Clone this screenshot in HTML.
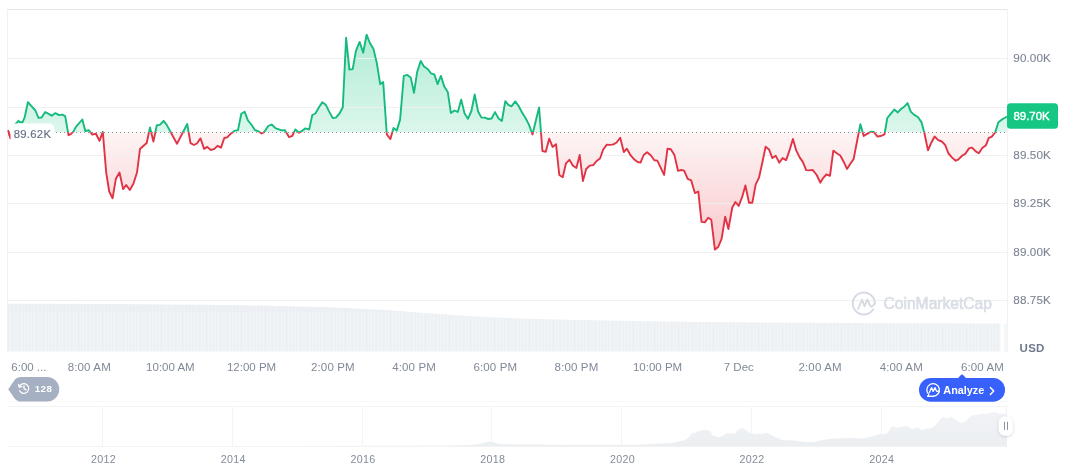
<!DOCTYPE html>
<html lang="en">
<head>
<meta charset="utf-8">
<title>Bitcoin price chart</title>
<style>
html,body{margin:0;padding:0;background:#fff;}
body{width:1072px;height:470px;overflow:hidden;position:relative;font-family:"Liberation Sans",sans-serif;}
svg{position:absolute;left:0;top:0;display:block;}
text{font-family:"Liberation Sans",sans-serif;}
.ax{font-size:11.5px;fill:#818998;}
.ay{font-size:11.7px;fill:#7b8494;stroke:#7b8494;stroke-width:0.1px;letter-spacing:0.1px;}
.yr{font-size:10.7px;fill:#838b99;letter-spacing:0.3px;}
</style>
</head>
<body>
<svg width="1072" height="470" viewBox="0 0 1072 470">
<defs>
<linearGradient id="gG" gradientUnits="userSpaceOnUse" x1="0" y1="30" x2="0" y2="132.3">
<stop offset="0" stop-color="#16c784" stop-opacity="0.35"/>
<stop offset="1" stop-color="#16c784" stop-opacity="0.15"/>
</linearGradient>
<linearGradient id="gR" gradientUnits="userSpaceOnUse" x1="0" y1="132.3" x2="0" y2="252">
<stop offset="0" stop-color="#ea3943" stop-opacity="0.055"/>
<stop offset="1" stop-color="#ea3943" stop-opacity="0.28"/>
</linearGradient>
<linearGradient id="gN" gradientUnits="userSpaceOnUse" x1="0" y1="410" x2="0" y2="446">
<stop offset="0" stop-color="#f1f3f6"/>
<stop offset="1" stop-color="#eceff2"/>
</linearGradient>
<clipPath id="cTop"><rect x="8" y="0" width="999" height="132.3"/></clipPath>
<clipPath id="cBot"><rect x="8" y="132.3" width="999" height="230"/></clipPath>
<filter id="sh" x="-60%" y="-40%" width="220%" height="200%">
<feDropShadow dx="0" dy="1" stdDeviation="1.6" flood-color="#58667e" flood-opacity="0.28"/>
</filter>
</defs>

<g shape-rendering="crispEdges">
<rect x="8" y="9" width="999" height="1" fill="#e6e6e6"/>
<rect x="7" y="9" width="1" height="343" fill="#f1f1f1"/>
<rect x="1007" y="9" width="1" height="343" fill="#f1f1f1"/>
</g>
<path d="M8.0,303.8 L100.0,304.0 L200.0,304.8 L260.0,305.5 L335.0,307.5 L385.0,310.0 L435.0,313.7 L485.0,317.0 L528.0,318.8 L578.0,320.0 L650.0,321.3 L700.0,322.0 L800.0,322.8 L900.0,323.3 L1000.5,323.5 L1000.5,351.6 L8.0,351.6 Z" fill="#edf1f4"/>
<clipPath id="cVol"><path d="M8.0,303.8 L100.0,304.0 L200.0,304.8 L260.0,305.5 L335.0,307.5 L385.0,310.0 L435.0,313.7 L485.0,317.0 L528.0,318.8 L578.0,320.0 L650.0,321.3 L700.0,322.0 L800.0,322.8 L900.0,323.3 L1000.5,323.5 L1000.5,351.6 L8.0,351.6 Z"/></clipPath>
<path d="M10,303h1v49h-1zM14,303h1v49h-1zM17,303h1v49h-1zM21,303h1v49h-1zM24,303h1v49h-1zM27,303h1v49h-1zM31,303h1v49h-1zM34,303h1v49h-1zM38,303h1v49h-1zM41,303h1v49h-1zM45,303h1v49h-1zM48,303h1v49h-1zM52,303h1v49h-1zM55,303h1v49h-1zM59,303h1v49h-1zM62,303h1v49h-1zM66,303h1v49h-1zM69,303h1v49h-1zM73,303h1v49h-1zM76,303h1v49h-1zM80,303h1v49h-1zM83,303h1v49h-1zM86,303h1v49h-1zM90,303h1v49h-1zM93,303h1v49h-1zM97,303h1v49h-1zM100,303h1v49h-1zM104,303h1v49h-1zM107,303h1v49h-1zM111,303h1v49h-1zM114,303h1v49h-1zM118,303h1v49h-1zM121,303h1v49h-1zM125,303h1v49h-1zM128,303h1v49h-1zM132,303h1v49h-1zM135,303h1v49h-1zM138,303h1v49h-1zM142,303h1v49h-1zM145,303h1v49h-1zM149,303h1v49h-1zM152,303h1v49h-1zM156,303h1v49h-1zM159,303h1v49h-1zM163,303h1v49h-1zM166,303h1v49h-1zM170,303h1v49h-1zM173,303h1v49h-1zM177,303h1v49h-1zM180,303h1v49h-1zM184,303h1v49h-1zM187,303h1v49h-1zM191,303h1v49h-1zM194,303h1v49h-1zM197,303h1v49h-1zM201,303h1v49h-1zM204,303h1v49h-1zM208,303h1v49h-1zM211,303h1v49h-1zM215,303h1v49h-1zM218,303h1v49h-1zM222,303h1v49h-1zM225,303h1v49h-1zM229,303h1v49h-1zM232,303h1v49h-1zM236,303h1v49h-1zM239,303h1v49h-1zM243,303h1v49h-1zM246,303h1v49h-1zM250,303h1v49h-1zM253,303h1v49h-1zM256,303h1v49h-1zM260,303h1v49h-1zM263,303h1v49h-1zM267,303h1v49h-1zM270,303h1v49h-1zM274,303h1v49h-1zM277,303h1v49h-1zM281,303h1v49h-1zM284,303h1v49h-1zM288,303h1v49h-1zM291,303h1v49h-1zM295,303h1v49h-1zM298,303h1v49h-1zM302,303h1v49h-1zM305,303h1v49h-1zM309,303h1v49h-1zM312,303h1v49h-1zM315,303h1v49h-1zM319,303h1v49h-1zM322,303h1v49h-1zM326,303h1v49h-1zM329,303h1v49h-1zM333,303h1v49h-1zM336,303h1v49h-1zM340,303h1v49h-1zM343,303h1v49h-1zM347,303h1v49h-1zM350,303h1v49h-1zM354,303h1v49h-1zM357,303h1v49h-1zM361,303h1v49h-1zM364,303h1v49h-1zM368,303h1v49h-1zM371,303h1v49h-1zM374,303h1v49h-1zM378,303h1v49h-1zM381,303h1v49h-1zM385,303h1v49h-1zM388,303h1v49h-1zM392,303h1v49h-1zM395,303h1v49h-1zM399,303h1v49h-1zM402,303h1v49h-1zM406,303h1v49h-1zM409,303h1v49h-1zM413,303h1v49h-1zM416,303h1v49h-1zM420,303h1v49h-1zM423,303h1v49h-1zM427,303h1v49h-1zM430,303h1v49h-1zM433,303h1v49h-1zM437,303h1v49h-1zM440,303h1v49h-1zM444,303h1v49h-1zM447,303h1v49h-1zM451,303h1v49h-1zM454,303h1v49h-1zM458,303h1v49h-1zM461,303h1v49h-1zM465,303h1v49h-1zM468,303h1v49h-1zM472,303h1v49h-1zM475,303h1v49h-1zM479,303h1v49h-1zM482,303h1v49h-1zM485,303h1v49h-1zM489,303h1v49h-1zM492,303h1v49h-1zM496,303h1v49h-1zM499,303h1v49h-1zM503,303h1v49h-1zM506,303h1v49h-1zM510,303h1v49h-1zM513,303h1v49h-1zM517,303h1v49h-1zM520,303h1v49h-1zM524,303h1v49h-1zM527,303h1v49h-1zM531,303h1v49h-1zM534,303h1v49h-1zM538,303h1v49h-1zM541,303h1v49h-1zM544,303h1v49h-1zM548,303h1v49h-1zM551,303h1v49h-1zM555,303h1v49h-1zM558,303h1v49h-1zM562,303h1v49h-1zM565,303h1v49h-1zM569,303h1v49h-1zM572,303h1v49h-1zM576,303h1v49h-1zM579,303h1v49h-1zM583,303h1v49h-1zM586,303h1v49h-1zM590,303h1v49h-1zM593,303h1v49h-1zM597,303h1v49h-1zM600,303h1v49h-1zM603,303h1v49h-1zM607,303h1v49h-1zM610,303h1v49h-1zM614,303h1v49h-1zM617,303h1v49h-1zM621,303h1v49h-1zM624,303h1v49h-1zM628,303h1v49h-1zM631,303h1v49h-1zM635,303h1v49h-1zM638,303h1v49h-1zM642,303h1v49h-1zM645,303h1v49h-1zM649,303h1v49h-1zM652,303h1v49h-1zM656,303h1v49h-1zM659,303h1v49h-1zM662,303h1v49h-1zM666,303h1v49h-1zM669,303h1v49h-1zM673,303h1v49h-1zM676,303h1v49h-1zM680,303h1v49h-1zM683,303h1v49h-1zM687,303h1v49h-1zM690,303h1v49h-1zM694,303h1v49h-1zM697,303h1v49h-1zM701,303h1v49h-1zM704,303h1v49h-1zM708,303h1v49h-1zM711,303h1v49h-1zM715,303h1v49h-1zM718,303h1v49h-1zM721,303h1v49h-1zM725,303h1v49h-1zM728,303h1v49h-1zM732,303h1v49h-1zM735,303h1v49h-1zM739,303h1v49h-1zM742,303h1v49h-1zM746,303h1v49h-1zM749,303h1v49h-1zM753,303h1v49h-1zM756,303h1v49h-1zM760,303h1v49h-1zM763,303h1v49h-1zM767,303h1v49h-1zM770,303h1v49h-1zM774,303h1v49h-1zM777,303h1v49h-1zM780,303h1v49h-1zM784,303h1v49h-1zM787,303h1v49h-1zM791,303h1v49h-1zM794,303h1v49h-1zM798,303h1v49h-1zM801,303h1v49h-1zM805,303h1v49h-1zM808,303h1v49h-1zM812,303h1v49h-1zM815,303h1v49h-1zM819,303h1v49h-1zM822,303h1v49h-1zM826,303h1v49h-1zM829,303h1v49h-1zM832,303h1v49h-1zM836,303h1v49h-1zM839,303h1v49h-1zM843,303h1v49h-1zM846,303h1v49h-1zM850,303h1v49h-1zM853,303h1v49h-1zM857,303h1v49h-1zM860,303h1v49h-1zM864,303h1v49h-1zM867,303h1v49h-1zM871,303h1v49h-1zM874,303h1v49h-1zM878,303h1v49h-1zM881,303h1v49h-1zM885,303h1v49h-1zM888,303h1v49h-1zM891,303h1v49h-1zM895,303h1v49h-1zM898,303h1v49h-1zM902,303h1v49h-1zM905,303h1v49h-1zM909,303h1v49h-1zM912,303h1v49h-1zM916,303h1v49h-1zM919,303h1v49h-1zM923,303h1v49h-1zM926,303h1v49h-1zM930,303h1v49h-1zM933,303h1v49h-1zM937,303h1v49h-1zM940,303h1v49h-1zM944,303h1v49h-1zM947,303h1v49h-1zM950,303h1v49h-1zM954,303h1v49h-1zM957,303h1v49h-1zM961,303h1v49h-1zM964,303h1v49h-1zM968,303h1v49h-1zM971,303h1v49h-1zM975,303h1v49h-1zM978,303h1v49h-1zM982,303h1v49h-1zM985,303h1v49h-1zM989,303h1v49h-1zM992,303h1v49h-1zM996,303h1v49h-1zM999,303h1v49h-1zM1003,303h1v49h-1z" fill="#ffffff" fill-opacity="0.3" shape-rendering="crispEdges" clip-path="url(#cVol)"/>
<rect x="8" y="303" width="993" height="9" fill="#c9d2dc" fill-opacity="0.06" clip-path="url(#cVol)"/>
<rect x="1000.6" y="300" width="3.4" height="52" fill="#fff"/>
<rect x="1004" y="323.8" width="3.5" height="27.8" fill="#f4f6f8"/>
<g clip-path="url(#cTop)"><path d="M8.0,130.8 L10.6,138.4 L15.2,124.3 L18.5,120.8 L20.0,122.3 L22.4,122.3 L24.6,117.7 L27.9,102.1 L30.8,105.4 L35.4,110.5 L38.5,117.9 L41.6,117.5 L45.2,112.1 L48.2,113.6 L51.8,115.7 L55.4,113.1 L59.0,115.1 L62.1,114.6 L65.2,116.2 L68.5,135.2 L70.8,134.1 L73.4,131.6 L75.9,126.9 L82.3,119.5 L85.3,131.0 L89.0,130.3 L92.3,134.6 L95.9,133.8 L99.5,140.8 L102.8,131.8 L106.2,172.5 L109.2,191.5 L112.6,198.2 L115.9,178.7 L119.5,172.5 L123.1,189.1 L126.2,185.0 L129.8,190.0 L133.4,183.8 L137.0,172.5 L140.0,149.0 L143.3,146.0 L146.7,143.0 L150.0,127.4 L153.4,141.6 L156.8,125.2 L159.8,124.9 L163.6,120.8 L166.7,124.9 L177.0,143.7 L187.2,124.0 L190.5,143.2 L193.9,145.0 L196.9,143.5 L200.5,138.4 L204.1,148.9 L207.2,146.9 L210.8,150.0 L214.4,148.9 L217.5,145.8 L221.0,147.6 L224.3,138.0 L227.2,137.3 L230.8,133.7 L234.4,130.9 L238.0,130.1 L241.3,113.7 L244.6,111.7 L247.9,120.4 L251.3,124.5 L254.9,130.1 L258.2,131.2 L261.6,133.5 L264.1,132.2 L268.2,126.0 L271.6,124.5 L275.4,128.1 L281.6,130.4 L285.0,130.1 L289.0,137.1 L292.3,135.8 L295.4,129.4 L299.0,132.8 L302.0,130.9 L305.1,128.4 L309.2,129.4 L312.3,115.0 L315.4,113.5 L319.0,107.3 L322.3,102.2 L325.7,104.7 L329.3,111.9 L332.8,118.1 L335.9,117.6 L339.5,113.5 L342.8,107.3 L346.1,37.8 L349.4,69.6 L352.7,69.1 L356.0,50.7 L359.6,41.9 L363.2,52.7 L366.6,34.7 L369.9,43.0 L373.5,49.1 L376.8,63.0 L380.2,84.1 L383.2,82.1 L386.8,134.5 L390.4,139.1 L393.5,128.0 L396.8,130.4 L400.1,119.6 L403.8,75.9 L407.3,74.9 L410.7,77.4 L414.0,92.8 L417.1,72.3 L420.7,61.0 L423.8,66.2 L427.9,69.2 L430.9,73.3 L434.3,74.4 L437.6,84.1 L440.9,75.9 L444.2,86.4 L447.8,92.1 L450.9,113.1 L454.5,110.5 L457.8,111.9 L461.2,99.6 L464.6,113.6 L467.9,118.8 L471.4,111.0 L474.7,94.5 L478.1,111.5 L481.4,117.6 L484.7,117.6 L488.3,119.0 L491.6,118.5 L495.0,112.1 L498.6,118.5 L501.9,121.0 L505.3,101.2 L508.4,104.9 L511.4,106.3 L515.3,101.4 L518.6,106.0 L522.2,112.7 L525.8,118.5 L528.9,124.6 L532.5,134.4 L535.5,122.1 L539.1,107.4 L542.4,151.0 L545.8,151.8 L549.2,138.7 L552.6,146.9 L556.0,144.2 L559.3,175.0 L562.7,177.2 L566.0,163.3 L569.4,159.8 L572.8,165.4 L576.4,168.0 L579.7,155.0 L582.9,181.0 L586.2,169.0 L589.7,165.6 L593.2,165.1 L596.6,161.0 L600.0,158.5 L603.2,149.5 L606.8,144.6 L610.4,144.9 L613.5,144.4 L616.6,142.5 L620.2,137.7 L623.8,152.1 L626.8,148.7 L630.9,155.7 L634.0,159.2 L637.6,162.0 L640.5,162.6 L643.7,155.0 L647.1,152.3 L650.7,155.2 L654.3,160.2 L657.3,160.6 L664.1,174.9 L667.5,148.7 L670.8,149.2 L674.4,154.9 L678.0,170.8 L681.0,170.0 L684.1,170.6 L687.7,178.8 L691.2,180.4 L694.9,193.1 L698.3,191.5 L701.5,221.9 L704.8,222.4 L708.2,217.7 L711.3,219.8 L714.9,249.6 L718.2,247.0 L721.6,238.8 L725.2,216.7 L728.4,229.0 L732.3,207.5 L735.4,202.0 L738.7,205.9 L742.1,197.2 L745.4,185.5 L749.0,202.8 L752.3,202.8 L755.7,184.4 L759.0,177.7 L762.3,162.7 L765.6,146.8 L769.0,149.4 L772.4,158.1 L775.7,155.7 L779.2,162.7 L782.6,158.1 L786.1,160.1 L789.5,150.4 L792.9,138.9 L796.2,150.4 L799.8,157.6 L802.8,161.9 L806.2,170.1 L809.5,170.4 L812.6,169.9 L816.7,175.0 L820.3,182.7 L823.1,178.1 L826.4,174.5 L830.0,175.8 L833.3,150.6 L836.7,153.3 L840.3,155.5 L843.6,161.7 L847.0,168.9 L850.0,164.2 L853.6,159.1 L857.0,141.5 L860.4,124.2 L863.7,136.0 L867.1,133.9 L870.7,131.7 L873.7,131.9 L877.3,136.5 L880.9,136.0 L884.5,134.4 L887.3,118.0 L890.7,113.9 L894.3,109.5 L897.8,112.4 L900.9,109.1 L904.5,106.4 L907.6,103.1 L910.9,111.9 L914.3,114.9 L917.9,117.0 L921.4,122.1 L924.4,133.0 L928.0,150.4 L931.3,142.7 L934.6,136.5 L938.2,140.1 L941.8,141.5 L945.1,144.8 L948.5,153.5 L952.1,157.6 L955.7,160.7 L958.2,159.6 L962.3,155.5 L965.4,153.8 L969.0,148.4 L972.1,147.6 L975.7,151.4 L978.8,153.2 L982.3,148.0 L985.9,145.3 L988.8,137.8 L991.6,136.8 L995.2,132.4 L998.4,122.2 L1001.4,119.9 L1003.6,118.5 L1007.0,116.8 L1007.0,132.3 L8.0,132.3 Z" fill="url(#gG)"/></g>
<g clip-path="url(#cBot)"><path d="M8.0,130.8 L10.6,138.4 L15.2,124.3 L18.5,120.8 L20.0,122.3 L22.4,122.3 L24.6,117.7 L27.9,102.1 L30.8,105.4 L35.4,110.5 L38.5,117.9 L41.6,117.5 L45.2,112.1 L48.2,113.6 L51.8,115.7 L55.4,113.1 L59.0,115.1 L62.1,114.6 L65.2,116.2 L68.5,135.2 L70.8,134.1 L73.4,131.6 L75.9,126.9 L82.3,119.5 L85.3,131.0 L89.0,130.3 L92.3,134.6 L95.9,133.8 L99.5,140.8 L102.8,131.8 L106.2,172.5 L109.2,191.5 L112.6,198.2 L115.9,178.7 L119.5,172.5 L123.1,189.1 L126.2,185.0 L129.8,190.0 L133.4,183.8 L137.0,172.5 L140.0,149.0 L143.3,146.0 L146.7,143.0 L150.0,127.4 L153.4,141.6 L156.8,125.2 L159.8,124.9 L163.6,120.8 L166.7,124.9 L177.0,143.7 L187.2,124.0 L190.5,143.2 L193.9,145.0 L196.9,143.5 L200.5,138.4 L204.1,148.9 L207.2,146.9 L210.8,150.0 L214.4,148.9 L217.5,145.8 L221.0,147.6 L224.3,138.0 L227.2,137.3 L230.8,133.7 L234.4,130.9 L238.0,130.1 L241.3,113.7 L244.6,111.7 L247.9,120.4 L251.3,124.5 L254.9,130.1 L258.2,131.2 L261.6,133.5 L264.1,132.2 L268.2,126.0 L271.6,124.5 L275.4,128.1 L281.6,130.4 L285.0,130.1 L289.0,137.1 L292.3,135.8 L295.4,129.4 L299.0,132.8 L302.0,130.9 L305.1,128.4 L309.2,129.4 L312.3,115.0 L315.4,113.5 L319.0,107.3 L322.3,102.2 L325.7,104.7 L329.3,111.9 L332.8,118.1 L335.9,117.6 L339.5,113.5 L342.8,107.3 L346.1,37.8 L349.4,69.6 L352.7,69.1 L356.0,50.7 L359.6,41.9 L363.2,52.7 L366.6,34.7 L369.9,43.0 L373.5,49.1 L376.8,63.0 L380.2,84.1 L383.2,82.1 L386.8,134.5 L390.4,139.1 L393.5,128.0 L396.8,130.4 L400.1,119.6 L403.8,75.9 L407.3,74.9 L410.7,77.4 L414.0,92.8 L417.1,72.3 L420.7,61.0 L423.8,66.2 L427.9,69.2 L430.9,73.3 L434.3,74.4 L437.6,84.1 L440.9,75.9 L444.2,86.4 L447.8,92.1 L450.9,113.1 L454.5,110.5 L457.8,111.9 L461.2,99.6 L464.6,113.6 L467.9,118.8 L471.4,111.0 L474.7,94.5 L478.1,111.5 L481.4,117.6 L484.7,117.6 L488.3,119.0 L491.6,118.5 L495.0,112.1 L498.6,118.5 L501.9,121.0 L505.3,101.2 L508.4,104.9 L511.4,106.3 L515.3,101.4 L518.6,106.0 L522.2,112.7 L525.8,118.5 L528.9,124.6 L532.5,134.4 L535.5,122.1 L539.1,107.4 L542.4,151.0 L545.8,151.8 L549.2,138.7 L552.6,146.9 L556.0,144.2 L559.3,175.0 L562.7,177.2 L566.0,163.3 L569.4,159.8 L572.8,165.4 L576.4,168.0 L579.7,155.0 L582.9,181.0 L586.2,169.0 L589.7,165.6 L593.2,165.1 L596.6,161.0 L600.0,158.5 L603.2,149.5 L606.8,144.6 L610.4,144.9 L613.5,144.4 L616.6,142.5 L620.2,137.7 L623.8,152.1 L626.8,148.7 L630.9,155.7 L634.0,159.2 L637.6,162.0 L640.5,162.6 L643.7,155.0 L647.1,152.3 L650.7,155.2 L654.3,160.2 L657.3,160.6 L664.1,174.9 L667.5,148.7 L670.8,149.2 L674.4,154.9 L678.0,170.8 L681.0,170.0 L684.1,170.6 L687.7,178.8 L691.2,180.4 L694.9,193.1 L698.3,191.5 L701.5,221.9 L704.8,222.4 L708.2,217.7 L711.3,219.8 L714.9,249.6 L718.2,247.0 L721.6,238.8 L725.2,216.7 L728.4,229.0 L732.3,207.5 L735.4,202.0 L738.7,205.9 L742.1,197.2 L745.4,185.5 L749.0,202.8 L752.3,202.8 L755.7,184.4 L759.0,177.7 L762.3,162.7 L765.6,146.8 L769.0,149.4 L772.4,158.1 L775.7,155.7 L779.2,162.7 L782.6,158.1 L786.1,160.1 L789.5,150.4 L792.9,138.9 L796.2,150.4 L799.8,157.6 L802.8,161.9 L806.2,170.1 L809.5,170.4 L812.6,169.9 L816.7,175.0 L820.3,182.7 L823.1,178.1 L826.4,174.5 L830.0,175.8 L833.3,150.6 L836.7,153.3 L840.3,155.5 L843.6,161.7 L847.0,168.9 L850.0,164.2 L853.6,159.1 L857.0,141.5 L860.4,124.2 L863.7,136.0 L867.1,133.9 L870.7,131.7 L873.7,131.9 L877.3,136.5 L880.9,136.0 L884.5,134.4 L887.3,118.0 L890.7,113.9 L894.3,109.5 L897.8,112.4 L900.9,109.1 L904.5,106.4 L907.6,103.1 L910.9,111.9 L914.3,114.9 L917.9,117.0 L921.4,122.1 L924.4,133.0 L928.0,150.4 L931.3,142.7 L934.6,136.5 L938.2,140.1 L941.8,141.5 L945.1,144.8 L948.5,153.5 L952.1,157.6 L955.7,160.7 L958.2,159.6 L962.3,155.5 L965.4,153.8 L969.0,148.4 L972.1,147.6 L975.7,151.4 L978.8,153.2 L982.3,148.0 L985.9,145.3 L988.8,137.8 L991.6,136.8 L995.2,132.4 L998.4,122.2 L1001.4,119.9 L1003.6,118.5 L1007.0,116.8 L1007.0,132.3 L8.0,132.3 Z" fill="url(#gR)"/></g>
<g shape-rendering="crispEdges" fill="#f0f0f0">
<rect x="8" y="58" width="999" height="1"/>
<rect x="8" y="107" width="999" height="1"/>
<rect x="8" y="155" width="999" height="1"/>
<rect x="8" y="203" width="999" height="1"/>
<rect x="8" y="252" width="999" height="1"/>
<rect x="8" y="300" width="999" height="1"/>
</g>
<g id="wm" fill="none" stroke="#d6dae3" stroke-width="1.9" stroke-linecap="round" stroke-linejoin="round">
<path d="M873.2,309.2 A11,11 0 1 1 874.8,303.5"/>
<path d="M858.2,309 L862,299.5 L864.4,306.3 L867.4,299.5 L869.8,305 Q871.6,308.6 874.8,303.5"/>
</g>
<text x="883.5" y="308.8" font-size="15.6" fill="#d9dde5" stroke="#d9dde5" stroke-width="0.6" textLength="108.5" lengthAdjust="spacingAndGlyphs">CoinMarketCap</text>

<line x1="8" y1="132.5" x2="1007" y2="132.5" stroke="#8f949c" stroke-width="1" stroke-dasharray="1 3" shape-rendering="crispEdges"/>
<g clip-path="url(#cTop)"><path d="M8.0,130.8 L10.6,138.4 L15.2,124.3 L18.5,120.8 L20.0,122.3 L22.4,122.3 L24.6,117.7 L27.9,102.1 L30.8,105.4 L35.4,110.5 L38.5,117.9 L41.6,117.5 L45.2,112.1 L48.2,113.6 L51.8,115.7 L55.4,113.1 L59.0,115.1 L62.1,114.6 L65.2,116.2 L68.5,135.2 L70.8,134.1 L73.4,131.6 L75.9,126.9 L82.3,119.5 L85.3,131.0 L89.0,130.3 L92.3,134.6 L95.9,133.8 L99.5,140.8 L102.8,131.8 L106.2,172.5 L109.2,191.5 L112.6,198.2 L115.9,178.7 L119.5,172.5 L123.1,189.1 L126.2,185.0 L129.8,190.0 L133.4,183.8 L137.0,172.5 L140.0,149.0 L143.3,146.0 L146.7,143.0 L150.0,127.4 L153.4,141.6 L156.8,125.2 L159.8,124.9 L163.6,120.8 L166.7,124.9 L177.0,143.7 L187.2,124.0 L190.5,143.2 L193.9,145.0 L196.9,143.5 L200.5,138.4 L204.1,148.9 L207.2,146.9 L210.8,150.0 L214.4,148.9 L217.5,145.8 L221.0,147.6 L224.3,138.0 L227.2,137.3 L230.8,133.7 L234.4,130.9 L238.0,130.1 L241.3,113.7 L244.6,111.7 L247.9,120.4 L251.3,124.5 L254.9,130.1 L258.2,131.2 L261.6,133.5 L264.1,132.2 L268.2,126.0 L271.6,124.5 L275.4,128.1 L281.6,130.4 L285.0,130.1 L289.0,137.1 L292.3,135.8 L295.4,129.4 L299.0,132.8 L302.0,130.9 L305.1,128.4 L309.2,129.4 L312.3,115.0 L315.4,113.5 L319.0,107.3 L322.3,102.2 L325.7,104.7 L329.3,111.9 L332.8,118.1 L335.9,117.6 L339.5,113.5 L342.8,107.3 L346.1,37.8 L349.4,69.6 L352.7,69.1 L356.0,50.7 L359.6,41.9 L363.2,52.7 L366.6,34.7 L369.9,43.0 L373.5,49.1 L376.8,63.0 L380.2,84.1 L383.2,82.1 L386.8,134.5 L390.4,139.1 L393.5,128.0 L396.8,130.4 L400.1,119.6 L403.8,75.9 L407.3,74.9 L410.7,77.4 L414.0,92.8 L417.1,72.3 L420.7,61.0 L423.8,66.2 L427.9,69.2 L430.9,73.3 L434.3,74.4 L437.6,84.1 L440.9,75.9 L444.2,86.4 L447.8,92.1 L450.9,113.1 L454.5,110.5 L457.8,111.9 L461.2,99.6 L464.6,113.6 L467.9,118.8 L471.4,111.0 L474.7,94.5 L478.1,111.5 L481.4,117.6 L484.7,117.6 L488.3,119.0 L491.6,118.5 L495.0,112.1 L498.6,118.5 L501.9,121.0 L505.3,101.2 L508.4,104.9 L511.4,106.3 L515.3,101.4 L518.6,106.0 L522.2,112.7 L525.8,118.5 L528.9,124.6 L532.5,134.4 L535.5,122.1 L539.1,107.4 L542.4,151.0 L545.8,151.8 L549.2,138.7 L552.6,146.9 L556.0,144.2 L559.3,175.0 L562.7,177.2 L566.0,163.3 L569.4,159.8 L572.8,165.4 L576.4,168.0 L579.7,155.0 L582.9,181.0 L586.2,169.0 L589.7,165.6 L593.2,165.1 L596.6,161.0 L600.0,158.5 L603.2,149.5 L606.8,144.6 L610.4,144.9 L613.5,144.4 L616.6,142.5 L620.2,137.7 L623.8,152.1 L626.8,148.7 L630.9,155.7 L634.0,159.2 L637.6,162.0 L640.5,162.6 L643.7,155.0 L647.1,152.3 L650.7,155.2 L654.3,160.2 L657.3,160.6 L664.1,174.9 L667.5,148.7 L670.8,149.2 L674.4,154.9 L678.0,170.8 L681.0,170.0 L684.1,170.6 L687.7,178.8 L691.2,180.4 L694.9,193.1 L698.3,191.5 L701.5,221.9 L704.8,222.4 L708.2,217.7 L711.3,219.8 L714.9,249.6 L718.2,247.0 L721.6,238.8 L725.2,216.7 L728.4,229.0 L732.3,207.5 L735.4,202.0 L738.7,205.9 L742.1,197.2 L745.4,185.5 L749.0,202.8 L752.3,202.8 L755.7,184.4 L759.0,177.7 L762.3,162.7 L765.6,146.8 L769.0,149.4 L772.4,158.1 L775.7,155.7 L779.2,162.7 L782.6,158.1 L786.1,160.1 L789.5,150.4 L792.9,138.9 L796.2,150.4 L799.8,157.6 L802.8,161.9 L806.2,170.1 L809.5,170.4 L812.6,169.9 L816.7,175.0 L820.3,182.7 L823.1,178.1 L826.4,174.5 L830.0,175.8 L833.3,150.6 L836.7,153.3 L840.3,155.5 L843.6,161.7 L847.0,168.9 L850.0,164.2 L853.6,159.1 L857.0,141.5 L860.4,124.2 L863.7,136.0 L867.1,133.9 L870.7,131.7 L873.7,131.9 L877.3,136.5 L880.9,136.0 L884.5,134.4 L887.3,118.0 L890.7,113.9 L894.3,109.5 L897.8,112.4 L900.9,109.1 L904.5,106.4 L907.6,103.1 L910.9,111.9 L914.3,114.9 L917.9,117.0 L921.4,122.1 L924.4,133.0 L928.0,150.4 L931.3,142.7 L934.6,136.5 L938.2,140.1 L941.8,141.5 L945.1,144.8 L948.5,153.5 L952.1,157.6 L955.7,160.7 L958.2,159.6 L962.3,155.5 L965.4,153.8 L969.0,148.4 L972.1,147.6 L975.7,151.4 L978.8,153.2 L982.3,148.0 L985.9,145.3 L988.8,137.8 L991.6,136.8 L995.2,132.4 L998.4,122.2 L1001.4,119.9 L1003.6,118.5 L1007.0,116.8" fill="none" stroke="#15bb7c" stroke-width="1.9" stroke-linejoin="round" stroke-linecap="round"/></g>
<g clip-path="url(#cBot)"><path d="M8.0,130.8 L10.6,138.4 L15.2,124.3 L18.5,120.8 L20.0,122.3 L22.4,122.3 L24.6,117.7 L27.9,102.1 L30.8,105.4 L35.4,110.5 L38.5,117.9 L41.6,117.5 L45.2,112.1 L48.2,113.6 L51.8,115.7 L55.4,113.1 L59.0,115.1 L62.1,114.6 L65.2,116.2 L68.5,135.2 L70.8,134.1 L73.4,131.6 L75.9,126.9 L82.3,119.5 L85.3,131.0 L89.0,130.3 L92.3,134.6 L95.9,133.8 L99.5,140.8 L102.8,131.8 L106.2,172.5 L109.2,191.5 L112.6,198.2 L115.9,178.7 L119.5,172.5 L123.1,189.1 L126.2,185.0 L129.8,190.0 L133.4,183.8 L137.0,172.5 L140.0,149.0 L143.3,146.0 L146.7,143.0 L150.0,127.4 L153.4,141.6 L156.8,125.2 L159.8,124.9 L163.6,120.8 L166.7,124.9 L177.0,143.7 L187.2,124.0 L190.5,143.2 L193.9,145.0 L196.9,143.5 L200.5,138.4 L204.1,148.9 L207.2,146.9 L210.8,150.0 L214.4,148.9 L217.5,145.8 L221.0,147.6 L224.3,138.0 L227.2,137.3 L230.8,133.7 L234.4,130.9 L238.0,130.1 L241.3,113.7 L244.6,111.7 L247.9,120.4 L251.3,124.5 L254.9,130.1 L258.2,131.2 L261.6,133.5 L264.1,132.2 L268.2,126.0 L271.6,124.5 L275.4,128.1 L281.6,130.4 L285.0,130.1 L289.0,137.1 L292.3,135.8 L295.4,129.4 L299.0,132.8 L302.0,130.9 L305.1,128.4 L309.2,129.4 L312.3,115.0 L315.4,113.5 L319.0,107.3 L322.3,102.2 L325.7,104.7 L329.3,111.9 L332.8,118.1 L335.9,117.6 L339.5,113.5 L342.8,107.3 L346.1,37.8 L349.4,69.6 L352.7,69.1 L356.0,50.7 L359.6,41.9 L363.2,52.7 L366.6,34.7 L369.9,43.0 L373.5,49.1 L376.8,63.0 L380.2,84.1 L383.2,82.1 L386.8,134.5 L390.4,139.1 L393.5,128.0 L396.8,130.4 L400.1,119.6 L403.8,75.9 L407.3,74.9 L410.7,77.4 L414.0,92.8 L417.1,72.3 L420.7,61.0 L423.8,66.2 L427.9,69.2 L430.9,73.3 L434.3,74.4 L437.6,84.1 L440.9,75.9 L444.2,86.4 L447.8,92.1 L450.9,113.1 L454.5,110.5 L457.8,111.9 L461.2,99.6 L464.6,113.6 L467.9,118.8 L471.4,111.0 L474.7,94.5 L478.1,111.5 L481.4,117.6 L484.7,117.6 L488.3,119.0 L491.6,118.5 L495.0,112.1 L498.6,118.5 L501.9,121.0 L505.3,101.2 L508.4,104.9 L511.4,106.3 L515.3,101.4 L518.6,106.0 L522.2,112.7 L525.8,118.5 L528.9,124.6 L532.5,134.4 L535.5,122.1 L539.1,107.4 L542.4,151.0 L545.8,151.8 L549.2,138.7 L552.6,146.9 L556.0,144.2 L559.3,175.0 L562.7,177.2 L566.0,163.3 L569.4,159.8 L572.8,165.4 L576.4,168.0 L579.7,155.0 L582.9,181.0 L586.2,169.0 L589.7,165.6 L593.2,165.1 L596.6,161.0 L600.0,158.5 L603.2,149.5 L606.8,144.6 L610.4,144.9 L613.5,144.4 L616.6,142.5 L620.2,137.7 L623.8,152.1 L626.8,148.7 L630.9,155.7 L634.0,159.2 L637.6,162.0 L640.5,162.6 L643.7,155.0 L647.1,152.3 L650.7,155.2 L654.3,160.2 L657.3,160.6 L664.1,174.9 L667.5,148.7 L670.8,149.2 L674.4,154.9 L678.0,170.8 L681.0,170.0 L684.1,170.6 L687.7,178.8 L691.2,180.4 L694.9,193.1 L698.3,191.5 L701.5,221.9 L704.8,222.4 L708.2,217.7 L711.3,219.8 L714.9,249.6 L718.2,247.0 L721.6,238.8 L725.2,216.7 L728.4,229.0 L732.3,207.5 L735.4,202.0 L738.7,205.9 L742.1,197.2 L745.4,185.5 L749.0,202.8 L752.3,202.8 L755.7,184.4 L759.0,177.7 L762.3,162.7 L765.6,146.8 L769.0,149.4 L772.4,158.1 L775.7,155.7 L779.2,162.7 L782.6,158.1 L786.1,160.1 L789.5,150.4 L792.9,138.9 L796.2,150.4 L799.8,157.6 L802.8,161.9 L806.2,170.1 L809.5,170.4 L812.6,169.9 L816.7,175.0 L820.3,182.7 L823.1,178.1 L826.4,174.5 L830.0,175.8 L833.3,150.6 L836.7,153.3 L840.3,155.5 L843.6,161.7 L847.0,168.9 L850.0,164.2 L853.6,159.1 L857.0,141.5 L860.4,124.2 L863.7,136.0 L867.1,133.9 L870.7,131.7 L873.7,131.9 L877.3,136.5 L880.9,136.0 L884.5,134.4 L887.3,118.0 L890.7,113.9 L894.3,109.5 L897.8,112.4 L900.9,109.1 L904.5,106.4 L907.6,103.1 L910.9,111.9 L914.3,114.9 L917.9,117.0 L921.4,122.1 L924.4,133.0 L928.0,150.4 L931.3,142.7 L934.6,136.5 L938.2,140.1 L941.8,141.5 L945.1,144.8 L948.5,153.5 L952.1,157.6 L955.7,160.7 L958.2,159.6 L962.3,155.5 L965.4,153.8 L969.0,148.4 L972.1,147.6 L975.7,151.4 L978.8,153.2 L982.3,148.0 L985.9,145.3 L988.8,137.8 L991.6,136.8 L995.2,132.4 L998.4,122.2 L1001.4,119.9 L1003.6,118.5 L1007.0,116.8" fill="none" stroke="#e03446" stroke-width="1.9" stroke-linejoin="round" stroke-linecap="round"/></g>
<path d="M8.3,131 L10.4,137.6" fill="none" stroke="#e03446" stroke-width="1.9" stroke-linecap="round"/>
<rect x="10.5" y="123.5" width="44" height="20" rx="5" fill="#ffffff" fill-opacity="0.96"/>
<text x="13.7" y="138" font-size="11.3" fill="#667085" stroke="#667085" stroke-width="0.15" letter-spacing="0.3">89.62K</text>
<text class="ay" x="1013.3" y="62.2">90.00K</text>
<text class="ay" x="1013.3" y="159.2">89.50K</text>
<text class="ay" x="1013.3" y="207.2">89.25K</text>
<text class="ay" x="1013.3" y="256.2">89.00K</text>
<text class="ay" x="1013.3" y="304.2">88.75K</text>
<rect x="1007" y="103.2" width="51" height="25.6" rx="3.5" fill="#16c784"/>
<text x="1013.5" y="120.1" font-size="11.4" fill="#ffffff" stroke="#ffffff" stroke-width="0.4">89.70K</text>
<text x="1019.6" y="352.2" font-size="11.5" font-weight="bold" fill="#717a8c" letter-spacing="0.25">USD</text>
<text class="ax" x="11.3" y="370.8">6:00 ...</text>
<text class="ax" x="89.3" y="370.8" text-anchor="middle" letter-spacing="0.14">8:00 AM</text>
<text class="ax" x="170.4" y="370.8" text-anchor="middle">10:00 AM</text>
<text class="ax" x="251.6" y="370.8" text-anchor="middle">12:00 PM</text>
<text class="ax" x="332.9" y="370.8" text-anchor="middle" letter-spacing="0.14">2:00 PM</text>
<text class="ax" x="414.1" y="370.8" text-anchor="middle" letter-spacing="0.14">4:00 PM</text>
<text class="ax" x="495.3" y="370.8" text-anchor="middle" letter-spacing="0.14">6:00 PM</text>
<text class="ax" x="576.5" y="370.8" text-anchor="middle" letter-spacing="0.14">8:00 PM</text>
<text class="ax" x="657.6" y="370.8" text-anchor="middle">10:00 PM</text>
<text class="ax" x="738.8" y="370.8" text-anchor="middle">7 Dec</text>
<text class="ax" x="820.1" y="370.8" text-anchor="middle" letter-spacing="0.14">2:00 AM</text>
<text class="ax" x="901.3" y="370.8" text-anchor="middle" letter-spacing="0.14">4:00 AM</text>
<text class="ax" x="982.5" y="370.8" text-anchor="middle" letter-spacing="0.14">6:00 AM</text>
<g shape-rendering="crispEdges">
<rect x="8" y="401" width="999" height="1" fill="#f9f9fa"/>
<rect x="8" y="406" width="999" height="1" fill="#f3f4f5"/>
<rect x="8" y="446" width="999" height="1" fill="#f3f4f5"/>
<rect x="1006" y="407" width="1" height="10" fill="#f3f4f5"/>
<rect x="102" y="407" width="1" height="39" fill="#f3f4f5"/>
<rect x="232" y="407" width="1" height="39" fill="#f3f4f5"/>
<rect x="362" y="407" width="1" height="39" fill="#f3f4f5"/>
<rect x="491" y="407" width="1" height="39" fill="#f3f4f5"/>
<rect x="621" y="407" width="1" height="39" fill="#f3f4f5"/>
<rect x="751" y="407" width="1" height="39" fill="#f3f4f5"/>
<rect x="881" y="407" width="1" height="39" fill="#f3f4f5"/>
</g>
<path d="M8.7,388.4 Q8.1,389.25 8.7,390.1 L14.6,398.4 Q16.9,401.5 21,401.5 L47,401.5 A12.25,12.25 0 0 0 47,377 L21,377 Q16.9,377 14.6,380.1 Z" fill="#a6b0c3"/>
<g fill="none" stroke="#ffffff" stroke-width="1.25" stroke-linecap="round" stroke-linejoin="round">
<path d="M19.3,386.7 A4.9,4.9 0 1 1 19.6,390.9"/>
<path d="M18.6,384.5 L19.2,387.2 L21.9,386.7"/>
<path d="M24,385.6 L24,388.6 L26.2,389.9"/>
</g>
<text x="34.7" y="392.3" font-size="9.8" font-weight="bold" fill="#ffffff" letter-spacing="0.4">128</text>
<path d="M957.8,378.3 L961.2,374.8 Q962,374 962.8,374.8 L966.2,378.3 Z" fill="#3861fb"/>
<rect x="919" y="378" width="86" height="23.8" rx="11.9" fill="#3861fb"/>
<g fill="none" stroke="#ffffff" stroke-width="1.3" stroke-linecap="round" stroke-linejoin="round">
<path d="M928.9,394.6 A6.3,6.3 0 1 1 932.6,396.2 L927.6,396.4 Z"/>
<path d="M929.4,392.4 L931.6,387.6 L933.1,391.4 L935,387.6 L936.4,390.8 Q937.4,392.2 938.6,390.6"/>
</g>
<text x="943.3" y="393.8" font-size="11" font-weight="bold" fill="#ffffff" textLength="41" lengthAdjust="spacingAndGlyphs">Analyze</text>
<path d="M990.4,387.5 L993.7,391 L990.4,394.5" fill="none" stroke="#ffffff" stroke-width="1.5" stroke-linecap="round" stroke-linejoin="round"/>
<path d="M8.0,446.0 L300.0,446.0 L400.0,445.8 L450.0,445.5 L470.0,445.0 L480.0,444.0 L486.0,442.0 L492.0,441.6 L497.0,443.6 L505.0,444.3 L540.0,444.6 L560.0,445.0 L600.0,444.7 L620.5,445.1 L641.0,444.7 L660.0,443.6 L672.5,443.0 L682.5,440.5 L686.0,439.4 L688.8,437.4 L691.0,434.0 L693.8,432.4 L695.5,432.9 L697.5,431.1 L700.5,430.8 L703.8,429.5 L707.0,430.6 L710.0,430.5 L711.5,433.5 L712.5,435.5 L715.5,436.2 L718.8,437.4 L721.5,436.2 L723.8,435.5 L726.3,433.0 L728.8,433.4 L731.3,432.8 L735.0,434.3 L736.3,431.5 L737.5,429.9 L740.0,428.9 L742.5,427.8 L744.5,429.3 L746.3,429.9 L748.2,431.9 L750.0,433.0 L752.5,433.3 L755.0,434.3 L758.0,433.8 L761.3,434.3 L764.5,433.2 L767.5,433.0 L770.0,434.6 L772.5,435.5 L775.0,437.0 L777.5,438.0 L782.5,439.9 L794.0,440.5 L805.2,442.1 L814.4,442.1 L822.6,440.0 L832.8,438.6 L851.3,438.0 L863.6,438.6 L871.8,436.5 L880.0,434.3 L884.0,433.9 L887.5,433.0 L890.0,429.0 L892.5,426.1 L895.5,427.2 L898.8,427.4 L903.0,426.4 L906.9,426.1 L910.0,428.0 L912.5,429.3 L915.0,428.0 L917.5,427.4 L920.0,429.0 L922.5,429.9 L926.0,428.8 L930.0,428.6 L933.0,427.0 L935.0,425.5 L937.0,423.0 L938.8,420.5 L941.5,418.0 L943.8,416.5 L945.5,418.0 L947.5,418.6 L949.5,417.3 L951.3,416.8 L954.0,418.8 L956.3,420.5 L959.0,422.0 L961.3,423.0 L964.0,421.7 L966.3,421.1 L968.3,418.6 L970.0,416.8 L972.5,415.5 L975.0,414.9 L979.0,414.4 L982.5,413.6 L986.0,414.0 L988.8,413.6 L992.0,412.4 L995.0,411.8 L997.5,413.0 L1000.0,413.6 L1003.0,413.6 L1007.0,414.3 L1007.0,446.2 L8.0,446.2 Z" fill="url(#gN)"/>
<text class="yr" x="103.6" y="463" text-anchor="middle">2012</text>
<text class="yr" x="233.3" y="463" text-anchor="middle">2014</text>
<text class="yr" x="363.0" y="463" text-anchor="middle">2016</text>
<text class="yr" x="492.7" y="463" text-anchor="middle">2018</text>
<text class="yr" x="622.4" y="463" text-anchor="middle">2020</text>
<text class="yr" x="752.1" y="463" text-anchor="middle">2022</text>
<text class="yr" x="881.8" y="463" text-anchor="middle">2024</text>
<rect x="998.8" y="416.4" width="14" height="19.4" rx="6" fill="#ffffff" filter="url(#sh)"/>
<rect x="1004" y="421.8" width="1" height="8.1" fill="#8b93a3"/>
<rect x="1007" y="421.8" width="1" height="8.1" fill="#8b93a3"/>
</svg>
</body>
</html>
